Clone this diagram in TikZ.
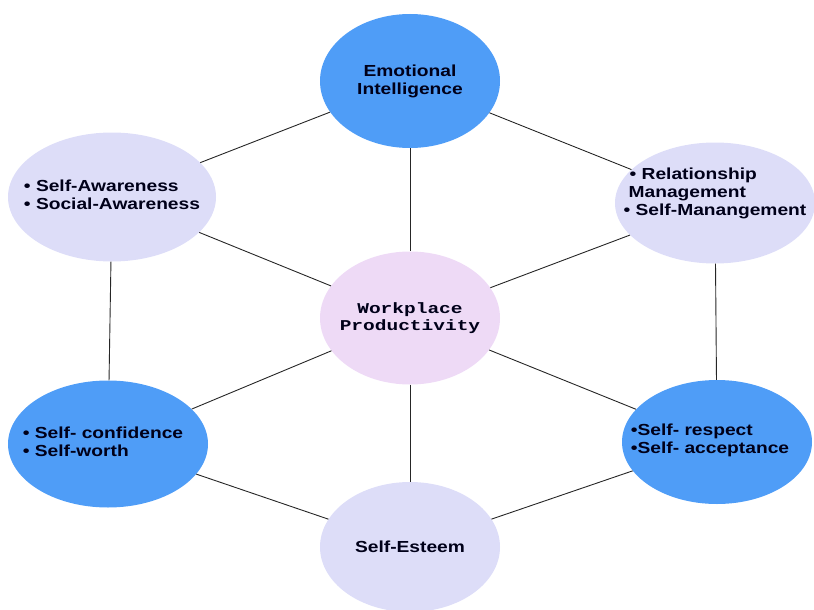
\documentclass[tikz,border=0pt]{standalone}
\usepackage{fontspec}
\usepackage{xcolor}
\usetikzlibrary{shapes.geometric}
\newfontfamily\diagsans[FakeStretch=1.2]{Liberation Sans}
\newfontfamily\diagmono[FakeStretch=1.3]{Liberation Mono}
\definecolor{bubbleblue}{HTML}{4F9DF7}
\definecolor{bubblelilac}{HTML}{DDDDF8}
\definecolor{bubblepink}{HTML}{EEDAF6}

\begin{document}
\begin{tikzpicture}[x=1pt,y=-1pt,
    bubble/.style={ellipse,inner sep=0pt},
    words/.style={align=left,text=black!90!blue,inner sep=0pt,
        font=\diagsans\bfseries\fontsize{16}{18}\selectfont},
    link/.style={draw=black!85,line width=0.9pt}]
    \useasboundingbox (0,0) rectangle (814,610);
            % outer ring
            \node[bubble,fill=bubbleblue,minimum width=180pt,minimum height=134pt,
                  label={[words,align=center]center:{Emotional\\Intelligence}}] (ei) at (410,81) {};
            \node[bubble,fill=bubblelilac,minimum width=208pt,minimum height=129pt,
                  label={[words,yshift=2pt]center:{\textbullet\ Self-Awareness\\\textbullet\ Social-Awareness}}] (sa) at (112,197) {};
            \node[bubble,fill=bubblelilac,minimum width=200pt,minimum height=121pt,
                  label={[words,yshift=10pt]center:{\hspace{6pt}\textbullet\ Relationship\\\hspace{5pt}Management\\\textbullet\ Self-Manangement}}] (rm) at (715,203) {};
            \node[bubble,fill=bubbleblue,minimum width=200pt,minimum height=127pt,
                  label={[words,xshift=-5pt,yshift=2pt]center:{\textbullet\ Self- confidence\\\textbullet\ Self-worth}}] (sc) at (108,444) {};
            \node[bubble,fill=bubbleblue,minimum width=190pt,minimum height=124pt,
                  label={[words,xshift=-7pt,yshift=2pt]center:{\textbullet Self- respect\\\textbullet Self- acceptance}}] (sr) at (717,442) {};
            \node[bubble,fill=bubblelilac,minimum width=180pt,minimum height=130pt,
                  label={[words]center:Self-Esteem}] (se) at (410,547) {};
            % centre
            \node[bubble,fill=bubblepink,minimum width=180pt,minimum height=133pt,
                  label={[words,align=center,font=\diagmono\bfseries\fontsize{15}{17}\selectfont]center:{Workplace\\Productivity}}] (wp) at (410,318) {};
            \draw[link] (ei)--(sa);
            \draw[link] (ei)--(rm);
            \draw[link] (ei)--(wp);
            \draw[link] (sa)--(wp);
            \draw[link] (rm)--(wp);
            \draw[link] (sa)--(sc);
            \draw[link] (rm)--(sr);
            \draw[link] (wp)--(sc);
            \draw[link] (wp)--(sr);
            \draw[link] (wp)--(se);
            \draw[link] (sc)--(se);
            \draw[link] (sr)--(se);
\end{tikzpicture}
\end{document}
